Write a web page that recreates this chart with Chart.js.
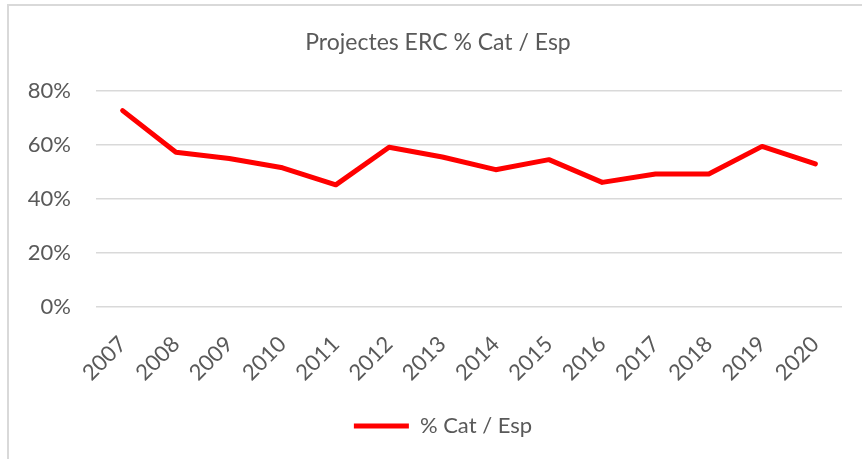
<!DOCTYPE html>
<html>
<head>
<meta charset="utf-8">
<script src="https://cdn.jsdelivr.net/npm/chart.js@4.4.1/dist/chart.umd.min.js"></script>
<style>
  html, body { margin: 0; padding: 0; background: #fff; overflow: hidden; }
  #wrap { position: relative; width: 862px; height: 459px; }
  .edge { position: absolute; background: #d9d9d9; }
  #edgeTop { left: 7px; top: 4px; width: 855px; height: 2px; }
  #edgeLeft { left: 7px; top: 4px; width: 2px; height: 455px; }
</style>
</head>
<body>
<div id="wrap">
  <div class="edge" id="edgeTop"></div>
  <div class="edge" id="edgeLeft"></div>
  <canvas id="ercChart"></canvas>
</div>
<script>
// Dades del gràfic
const years = ['2007', '2008', '2009', '2010', '2011', '2012', '2013', '2014', '2015', '2016', '2017', '2018', '2019', '2020'];
const catEspPct = [72.6, 57.2, 54.9, 51.5, 45.2, 59.1, 55.5, 50.8, 54.5, 46.1, 49.2, 49.2, 59.4, 52.9];
const yTicks = [0, 20, 40, 60, 80];

const seriesLabel = '% Cat / Esp';
const chartTitle = 'Projectes ERC % Cat / Esp';

const textColor = '#595959';
const gridColor = '#d9d9d9';
const fontFamily = 'Lato, "Open Sans", sans-serif';

// Desplaça una mica el títol i la llegenda cap a la dreta, com a l'original
const shiftBlocks = {
  id: 'shiftBlocks',
  afterLayout(chart) {
    if (chart.legend) chart.legend.left += 18;
    if (chart.titleBlock) chart.titleBlock.left += 8;
  }
};

const ctx = document.getElementById('ercChart').getContext('2d');

new Chart(ctx, {
  type: 'line',
  data: {
    labels: years,
    datasets: [{
      label: seriesLabel,
      data: catEspPct,
      borderColor: '#ff0000',
      backgroundColor: '#ff0000',
      borderWidth: 5,
      borderCapStyle: 'round',
      borderJoinStyle: 'round',
      pointRadius: 0,
      pointHoverRadius: 0,
      tension: 0,
      fill: false
    }]
  },
  options: {
    responsive: true,
    maintainAspectRatio: false,
    animation: false,
    layout: {
      padding: { left: 26, right: 20, top: 0, bottom: 12 }
    },
    plugins: {
      title: {
        display: true,
        text: chartTitle,
        color: textColor,
        font: { family: fontFamily, size: 23, weight: 'normal' },
        padding: { top: 29, bottom: 34 }
      },
      legend: {
        display: true,
        position: 'bottom',
        labels: {
          color: textColor,
          font: { family: fontFamily, size: 22 },
          usePointStyle: true,
          pointStyle: 'line',
          pointStyleWidth: 55,
          padding: 10
        }
      },
      tooltip: { enabled: false }
    },
    scales: {
      x: {
        offset: true,
        grid: { display: false },
        border: { display: false },
        ticks: {
          color: textColor,
          font: { family: fontFamily, size: 22 },
          minRotation: 45,
          maxRotation: 45,
          autoSkip: false,
          padding: 16
        },
        afterFit: (axis) => {
          // espai extra abans de la llegenda
          axis.height += 3;
          axis.paddingLeft = 0;
          axis.paddingRight = 0;
        }
      },
      y: {
        min: 0,
        max: 80,
        afterBuildTicks: (axis) => {
          axis.ticks = yTicks.map(v => ({ value: v }));
        },
        afterFit: (axis) => {
          axis.width = 70;
        },
        grid: {
          color: gridColor,
          lineWidth: 1.5,
          drawTicks: false
        },
        border: { display: false },
        ticks: {
          color: textColor,
          font: { family: fontFamily, size: 22 },
          padding: 25,
          callback: (v) => v + '%'
        }
      }
    }
  },
  plugins: [shiftBlocks]
});
</script>
</body>
</html>
